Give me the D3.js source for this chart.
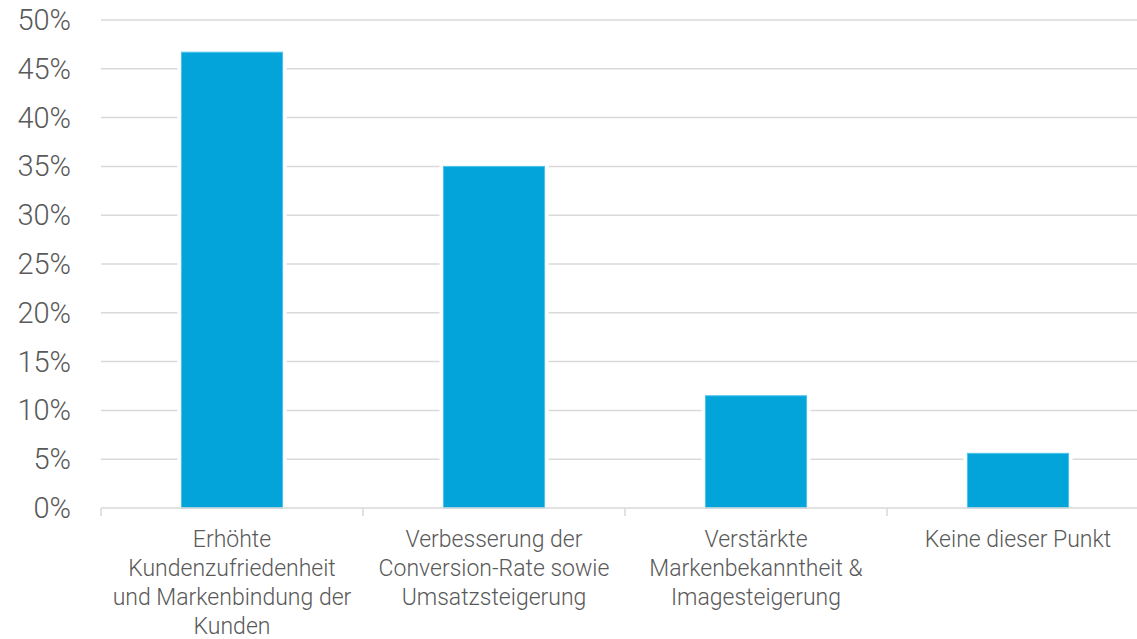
<!DOCTYPE html>
<html>
<head>
<meta charset="utf-8">
<script src="https://cdn.jsdelivr.net/npm/d3@7"></script>
<style>
  html, body { margin: 0; padding: 0; background: #fff; }
  svg { display: block; }
  text { font-family: Roboto, "Open Sans", sans-serif; font-weight: 300; fill: #595959; }
</style>
</head>
<body>
<svg id="chart" width="1137" height="639"></svg>
<script>
// Category labels, already broken into lines
const categories = [
  ["Erhöhte", "Kundenzufriedenheit", "und Markenbindung der", "Kunden"],
  ["Verbesserung der", "Conversion-Rate sowie", "Umsatzsteigerung"],
  ["Verstärkte", "Markenbekanntheit &", "Imagesteigerung"],
  ["Keine dieser Punkt"]
];
// Share of respondents, in percent
const values = [46.7, 35.0, 11.5, 5.6];
// Y axis ticks
const yTicks = [0, 5, 10, 15, 20, 25, 30, 35, 40, 45, 50];

const svg = d3.select("#chart");
const plotLeft = 101, plotRight = 1149, plotTop = 20, plotBottom = 508;

const x = d3.scaleBand().domain(d3.range(categories.length)).range([plotLeft, plotRight]).padding(0);
const y = d3.scaleLinear().domain([0, 50]).range([plotBottom, plotTop]);
const barW = x.bandwidth() * 0.386;

// Gridlines
svg.append("g").selectAll("line").data(yTicks.filter(d => d > 0)).join("line")
  .attr("x1", plotLeft).attr("x2", 1137)
  .attr("y1", d => y(d)).attr("y2", d => y(d))
  .attr("stroke", "#d9d9d9").attr("stroke-width", 1.5);

// Y tick labels
svg.append("g").selectAll("text").data(yTicks).join("text")
  .attr("x", 71).attr("y", d => y(d))
  .attr("text-anchor", "end").attr("dominant-baseline", "central")
  .attr("font-size", 29)
  .text(d => d + "%");

// Bars with a white halo that interrupts the gridlines
const bars = svg.append("g");
bars.selectAll("rect.halo").data(values).join("rect").attr("class", "halo")
  .attr("x", (d, i) => x(i) + (x.bandwidth() - barW) / 2 - 4)
  .attr("width", barW + 8)
  .attr("y", d => y(d) - 4)
  .attr("height", d => plotBottom - y(d) + 4)
  .attr("fill", "#fff");
bars.selectAll("rect.bar").data(values).join("rect").attr("class", "bar")
  .attr("x", (d, i) => x(i) + (x.bandwidth() - barW) / 2)
  .attr("width", barW)
  .attr("y", d => y(d))
  .attr("height", d => plotBottom - y(d))
  .attr("fill", "#02a4da")
  .attr("stroke", "#4cc3ec").attr("stroke-width", 1);

// Category axis line and ticks
svg.append("line").attr("x1", plotLeft).attr("x2", 1137).attr("y1", plotBottom).attr("y2", plotBottom)
  .attr("stroke", "#d9d9d9").attr("stroke-width", 1.5);
svg.append("g").selectAll("line").data(d3.range(categories.length + 1)).join("line")
  .attr("x1", i => plotLeft + i * x.step()).attr("x2", i => plotLeft + i * x.step())
  .attr("y1", plotBottom).attr("y2", plotBottom + 8)
  .attr("stroke", "#d9d9d9").attr("stroke-width", 1.5);

// Category labels
const labels = svg.append("g").selectAll("text").data(categories).join("text")
  .attr("text-anchor", "middle").attr("font-size", 23);
labels.selectAll("tspan").data((d, i) => d.map(line => ({ line, i }))).join("tspan")
  .attr("x", d => x(d.i) + x.bandwidth() / 2)
  .attr("y", (d, j) => 547 + j * 29)
  .text(d => d.line);
</script>
</body>
</html>
